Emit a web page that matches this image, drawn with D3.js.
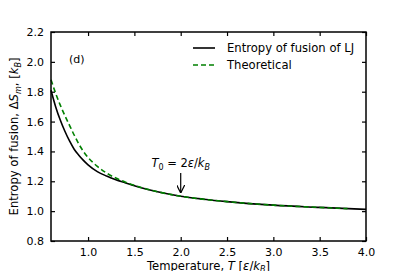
<!DOCTYPE html>
<html>
<head>
  <meta charset="UTF-8">
  <title>Entropy of fusion</title>
  <style>
    body { margin: 0; background: #fff; }
    text { font-family: "DejaVu Sans", sans-serif; fill: #000; }
    .tick-label { font-size: 11px; }
    .line { fill: none; stroke-width: 1.6px; }
  </style>
</head>
<body>
  <div id="chart"></div>
  <script src="https://cdn.jsdelivr.net/npm/d3@7"></script>
  <script>
    // Simulated entropy of fusion (LJ)
    const ljT = [0.6, 0.65, 0.7, 0.75, 0.8, 0.85, 0.9, 0.95, 1.0, 1.1, 1.2, 1.3, 1.4, 1.5, 1.75, 2.0, 2.25, 2.5, 3.0, 3.5, 4.0];
    const ljS = [1.81, 1.70, 1.61, 1.535, 1.47, 1.415, 1.375, 1.34, 1.31, 1.265, 1.235, 1.21, 1.19, 1.17, 1.13, 1.10, 1.08, 1.064, 1.04, 1.025, 1.012];

    // Theoretical curve
    const thT = [0.6, 0.65, 0.7, 0.75, 0.8, 0.85, 0.9, 0.95, 1.0, 1.1, 1.2, 1.3, 1.4, 1.5, 1.75, 2.0, 2.5, 3.0, 3.5, 3.8];
    const thS = [1.88, 1.79, 1.71, 1.64, 1.575, 1.51, 1.45, 1.40, 1.36, 1.30, 1.255, 1.222, 1.195, 1.173, 1.13, 1.10, 1.064, 1.04, 1.025, 1.017];

    const xTicks = [1.0, 1.5, 2.0, 2.5, 3.0, 3.5, 4.0];
    const yTicks = [0.8, 1.0, 1.2, 1.4, 1.6, 1.8, 2.0, 2.2];

    const width = 407, height = 271;
    const margin = {top: 32, right: 41, bottom: 30, left: 51};

    const svg = d3.select("#chart").append("svg")
      .attr("width", width)
      .attr("height", height);

    const x = d3.scaleLinear().domain([0.6, 4.0]).range([margin.left, width - margin.right]);
    const y = d3.scaleLinear().domain([0.8, 2.2]).range([height - margin.bottom, margin.top]);

    // inward ticks on all four sides
    const tk = 4;
    svg.append("g")
      .attr("transform", `translate(0,${y(0.8)})`)
      .call(d3.axisBottom(x).tickValues(xTicks).tickSizeInner(-tk).tickSizeOuter(0).tickPadding(7).tickFormat(d3.format(".1f")))
      .call(g => g.select(".domain").remove())
      .call(g => g.selectAll("text").attr("class", "tick-label").attr("font-size", null).attr("font-family", null));
    svg.append("g")
      .attr("transform", `translate(0,${y(2.2)})`)
      .call(d3.axisTop(x).tickValues(xTicks).tickSizeInner(-tk).tickSizeOuter(0).tickFormat(""))
      .call(g => g.select(".domain").remove());
    svg.append("g")
      .attr("transform", `translate(${x(0.6)},0)`)
      .call(d3.axisLeft(y).tickValues(yTicks).tickSizeInner(-tk).tickSizeOuter(0).tickPadding(7).tickFormat(d3.format(".1f")))
      .call(g => g.select(".domain").remove())
      .call(g => g.selectAll("text").attr("class", "tick-label").attr("font-size", null).attr("font-family", null));
    svg.append("g")
      .attr("transform", `translate(${x(4.0)},0)`)
      .call(d3.axisRight(y).tickValues(yTicks).tickSizeInner(-tk).tickSizeOuter(0).tickFormat(""))
      .call(g => g.select(".domain").remove());
    svg.selectAll(".tick line").attr("stroke", "#000").attr("stroke-width", 1.2);

    const line = (xs, ys) => d3.line()
      .x((d, i) => x(xs[i]))
      .y((d, i) => y(ys[i]))
      .curve(d3.curveMonotoneX)(xs);

    svg.append("path").attr("class", "line")
      .attr("d", line(ljT, ljS))
      .attr("stroke", "#000");
    svg.append("path").attr("class", "line")
      .attr("d", line(thT, thS))
      .attr("stroke", "#008000")
      .attr("stroke-dasharray", "5,3");

    // frame
    svg.append("rect")
      .attr("x", x(0.6)).attr("y", y(2.2))
      .attr("width", x(4.0) - x(0.6)).attr("height", y(0.8) - y(2.2))
      .attr("fill", "none").attr("stroke", "#000").attr("stroke-width", 1.5);

    // panel label
    svg.append("text").attr("x", 69).attr("y", 63).attr("font-size", 11).attr("fill", "#000").text("(d)");

    // legend
    const legend = [
      {label: "Entropy of fusion of LJ", color: "#000", dash: null},
      {label: "Theoretical", color: "#008000", dash: "5,3"}
    ];
    legend.forEach((d, i) => {
      const ly = 48 + i * 17;
      svg.append("line")
        .attr("x1", 193).attr("x2", 215).attr("y1", ly).attr("y2", ly)
        .attr("stroke", d.color).attr("stroke-width", 1.6)
        .attr("stroke-dasharray", d.dash);
      svg.append("text").attr("x", 227).attr("y", ly + 4)
        .attr("font-size", 11.6).text(d.label);
    });

    // annotation T0 = 2ε/kB
    const ann = svg.append("text").attr("x", x(2.0)).attr("y", 167)
      .attr("text-anchor", "middle").attr("font-size", 11.5);
    ann.append("tspan").attr("font-style", "italic").text("T");
    ann.append("tspan").attr("font-size", 8).attr("dy", 3).text("0");
    ann.append("tspan").attr("dy", -3).text(" = 2");
    ann.append("tspan").attr("font-style", "italic").text("ε");
    ann.append("tspan").text("/");
    ann.append("tspan").attr("font-style", "italic").text("k");
    ann.append("tspan").attr("font-size", 8).attr("font-style", "italic").attr("dy", 3).text("B");

    svg.append("defs").append("marker")
      .attr("id", "arr").attr("viewBox", "0 0 10 10")
      .attr("refX", 10).attr("refY", 5)
      .attr("markerWidth", 7).attr("markerHeight", 7)
      .attr("orient", "auto")
      .append("path").attr("d", "M0,0 L10,5 L0,10").attr("fill", "none").attr("stroke", "#000").attr("stroke-width", 1.5);
    svg.append("line")
      .attr("x1", x(2.0)).attr("x2", x(2.0))
      .attr("y1", 173).attr("y2", 193)
      .attr("stroke", "#000").attr("stroke-width", 1.2)
      .attr("marker-end", "url(#arr)");

    // x label, sits at the bottom edge as in the original
    const xl = svg.append("text").attr("x", (x(0.6) + x(4.0)) / 2).attr("y", 270)
      .attr("text-anchor", "middle").attr("font-size", 11.6);
    xl.append("tspan").text("Temperature, ");
    xl.append("tspan").attr("font-style", "italic").text("T");
    xl.append("tspan").text(" [");
    xl.append("tspan").attr("font-style", "italic").text("ε");
    xl.append("tspan").text("/");
    xl.append("tspan").attr("font-style", "italic").text("k");
    xl.append("tspan").attr("font-size", 8).attr("font-style", "italic").attr("dy", 2).text("B");
    xl.append("tspan").attr("dy", -2).text("]");

    // y label
    const yl = svg.append("text")
      .attr("transform", `translate(18,${(y(0.8) + y(2.2)) / 2}) rotate(-90)`)
      .attr("text-anchor", "middle").attr("font-size", 11.6);
    yl.append("tspan").text("Entropy of fusion, Δ");
    yl.append("tspan").attr("font-style", "italic").text("S");
    yl.append("tspan").attr("font-size", 8).attr("font-style", "italic").attr("dy", 3).text("m");
    yl.append("tspan").attr("dy", -3).text(", [");
    yl.append("tspan").attr("font-style", "italic").text("k");
    yl.append("tspan").attr("font-size", 8).attr("font-style", "italic").attr("dy", 3).text("B");
    yl.append("tspan").attr("dy", -3).text("]");
  </script>
</body>
</html>
